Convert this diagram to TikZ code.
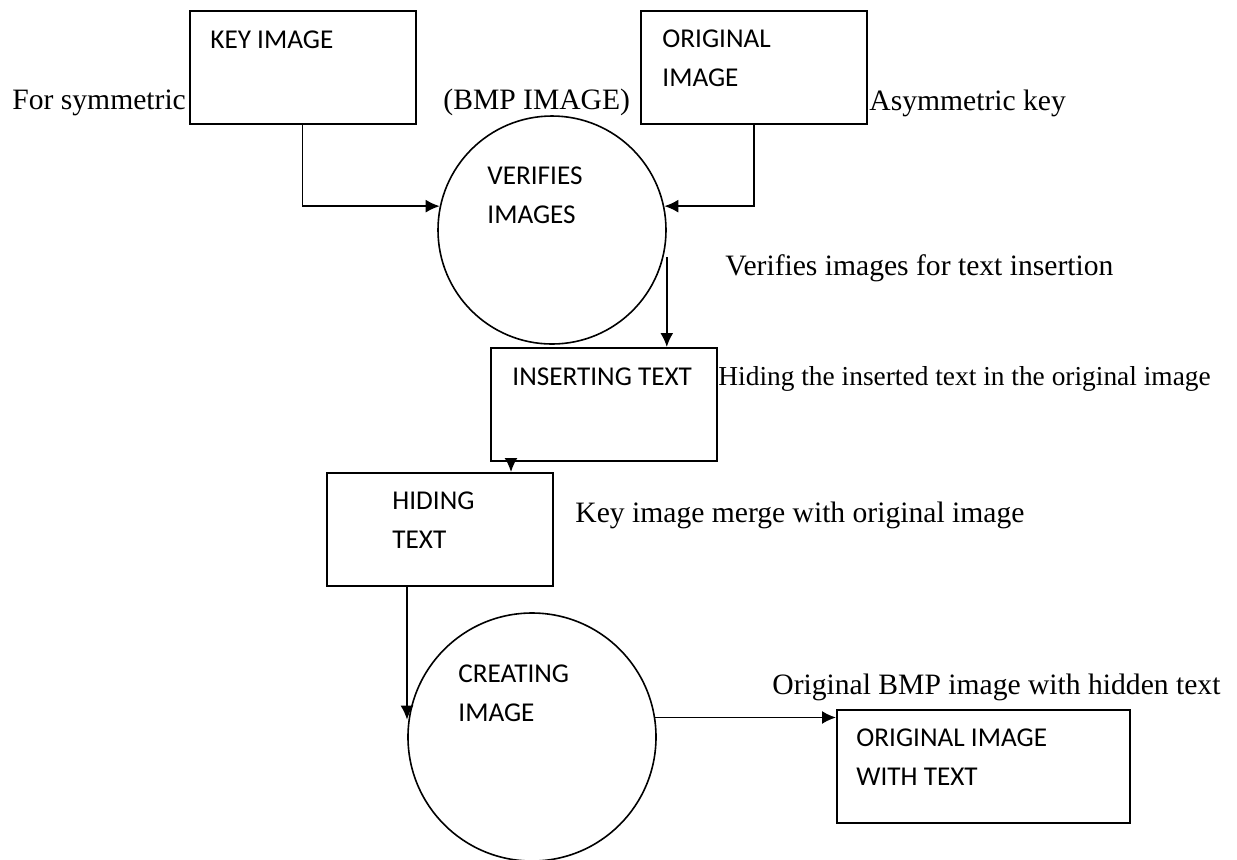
\documentclass[tikz,border=0pt]{standalone}
\usepackage{fontspec}
\setmainfont{Liberation Serif}
\newfontfamily\boxfont{Carlito}
\usetikzlibrary{arrows.meta}
\tikzset{>={Latex[length=7pt,width=6.5pt]}}

\begin{document}
\begin{tikzpicture}[x=0.5pt,y=-0.5pt,
	every node/.style={inner sep=0pt},
	proc/.style={draw,line width=1pt,minimum width=113pt,minimum height=56.5pt},
	bubble/.style={draw,circle,line width=0.8pt},
	boxtext/.style={anchor=base west,align=left,font=\boxfont\fontsize{13.6}{19.5}\selectfont},
	note/.style={anchor=base west,font=\fontsize{14.8}{18}\selectfont},
	flow/.style={->,line width=0.9pt}]
	\useasboundingbox (0,0) rectangle (1237,859);

	% Boxes and bubbles
	\node[proc] (keyimg) at (302.5,67.5) {}; % key image
	\node[proc] (origimg) at (754,67.5) {}; % original image
	\node[bubble,minimum size=114pt] (verify) at (552,230) {};
	\node[proc] (insert) at (604,404.5) {};
	\node[proc] (hide) at (440,529.5) {};
	\node[bubble,minimum size=124pt] (create) at (532,737) {};
	\node[proc,minimum width=146.5pt] (result) at (983.5,766.5) {}; % output image

	% Texts inside (base = last line)
	\node[boxtext] (keytxt) at (210,48) {KEY IMAGE};
	\node[boxtext] (origtxt) at (662,86) {ORIGINAL\\IMAGE};
	\node[boxtext] (verifytxt) at (487,223) {VERIFIES\\IMAGES};
	\node[boxtext] (inserttxt) at (512,385) {INSERTING TEXT};
	\node[boxtext] (hidetxt) at (392,548) {HIDING\\TEXT};
	\node[boxtext] (createtxt) at (458,721) {CREATING\\IMAGE};
	\node[boxtext] (resulttxt) at (856,785) {ORIGINAL IMAGE\\WITH TEXT};

	% Notes
	\node[note] (symm) at (12,109) {For symmetric};
	\node[note] (bmp) at (443,109) {(BMP IMAGE)};
	\node[note] (asymm) at (869,110) {Asymmetric key};
	\node[note] (vnote) at (725,275) {Verifies images for text insertion};
	\node[note,font=\fontsize{13.7}{16}\selectfont] (hnote) at (718,385) {Hiding the inserted text in the original image};
	\node[note] (mnote) at (575,522) {Key image merge with original image};
	\node[note] (onote) at (772,694) {Original BMP image with hidden text};

	% Drawing the flow
	\draw[flow] (keyimg.south) |- (verify.168);
	\draw[flow] (origimg.south) |- (verify.12);
	\draw[flow] ([yshift=-13.5pt]verify.east) -- (verify.east |- insert.north);
	\draw[flow] ([xshift=10.5pt]insert.south west) -- ([xshift=10.5pt]insert.south west |- hide.north);
	\draw[flow] ([xshift=40.5pt]hide.south west) -- ([xshift=40.5pt]hide.south west |- create.172);
	\draw[flow] (create.9) -- (create.9 -| result.west);
\end{tikzpicture}
\end{document}
